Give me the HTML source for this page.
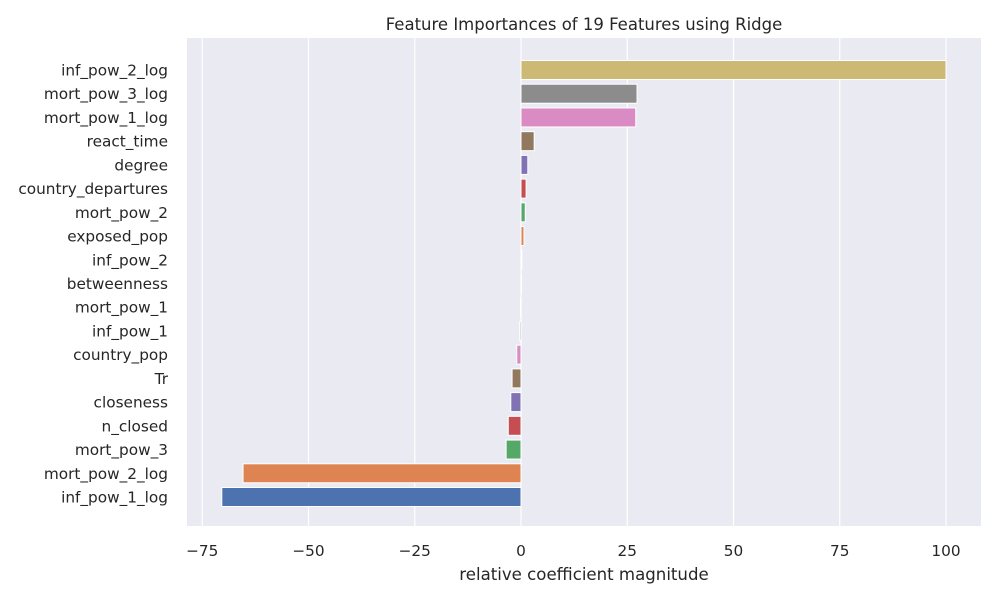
<!DOCTYPE html>
<html><head><meta charset="utf-8"><style>
body{margin:0;background:#fff;font-family:"Liberation Sans","DejaVu Sans",sans-serif;}
svg text{font-family:"DejaVu Sans","Liberation Sans",sans-serif;fill:#262626;}
</style></head><body>
<svg id="chart" width="1000" height="600" xmlns="http://www.w3.org/2000/svg">
<rect x="0" y="0" width="1000" height="600" fill="#fff"/>
<rect x="187" y="38" width="794" height="488" fill="#eaeaf2"/>
<g id="grid"></g><g id="bars"></g><g id="xticks"></g><g id="yticks"></g>
<text x="584" y="30" font-size="16.5" text-anchor="middle">Feature Importances of 19 Features using Ridge</text>
<text x="584" y="580" font-size="16.6" text-anchor="middle">relative coefficient magnitude</text>
</svg>
<script>
const features=["inf_pow_2_log","mort_pow_3_log","mort_pow_1_log","react_time","degree","country_departures","mort_pow_2","exposed_pop","inf_pow_2","betweenness","mort_pow_1","inf_pow_1","country_pop","Tr","closeness","n_closed","mort_pow_3","mort_pow_2_log","inf_pow_1_log"];
const values=[100,27.3,27,3.1,1.6,1.2,1.0,0.7,0.2,0.1,-0.1,-0.3,-1.0,-2.1,-2.4,-3.0,-3.5,-65.4,-70.4];
const xTicks=[-75,-50,-25,0,25,50,75,100];
const palette=["#4c72b0","#dd8452","#55a868","#c44e52","#8172b3","#937860","#da8bc3","#8c8c8c","#ccb974","#64b5cd"];
const NS="http://www.w3.org/2000/svg";
const xs=v=>521+v*4.25;
const step=(497-70)/18;
const ys=i=>70+i*step;
function mk(tag,attrs,parent){const e=document.createElementNS(NS,tag);for(const k in attrs)e.setAttribute(k,attrs[k]);document.getElementById(parent).appendChild(e);return e;}
xTicks.forEach(t=>{
  const l=mk("line",{x1:xs(t),x2:xs(t),y1:38,y2:526,stroke:"#fff","stroke-width":1.2},"grid");
  
  
  const tx=mk("text",{x:xs(t),y:556,"font-size":15.3,"text-anchor":"middle"},"xticks");
  tx.textContent=(t<0?"\u2212"+(-t):""+t);
  
  
});
const n=features.length;
features.forEach((f,i)=>{
  const v=values[i];
  const col=palette[(n-1-i)%10];
  const bh=step*0.8;
  const r=mk("rect",{x:Math.min(xs(0),xs(v)),y:ys(i)-bh/2,width:Math.max(Math.abs(xs(v)-xs(0)),0.5),height:bh,fill:col,stroke:"#fff","stroke-width":1},"bars");
  
  
  const t=mk("text",{x:168,y:ys(i)+5.5,"font-size":15.3,"text-anchor":"end"},"yticks");
  t.textContent=f;
  
  
});
</script>
</body></html>
